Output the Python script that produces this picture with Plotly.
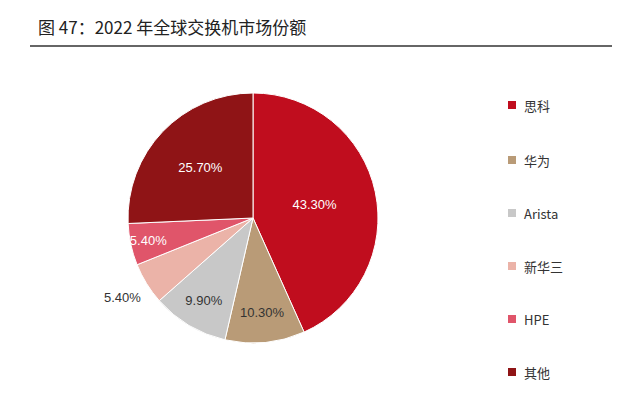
import plotly.graph_objects as go

## ----------- data ----------- ##
companies = ["思科", "华为", "Arista", "新华三", "HPE", "其他"]
shares = [43.3, 10.3, 9.9, 5.4, 5.4, 25.7]
colors = ["#C00D1E", "#B99B77", "#C8C8C8", "#EBB3A8", "#E0556A", "#8F1416"]
label_colors = ["white", "#333333", "#333333", "#333333", "white", "white"]

W, H = 632, 417
OFF = 8  # page offset of the plot in the browser
FONT = "Noto Sans CJK SC, Arial"

texts = [f"{v:.2f}%" for v in shares]
texts[3] = ""  # drawn outside as annotation

cx, cy, r = 253 - OFF, 218 - OFF, 125
fig = go.Figure()
fig.add_trace(
	go.Pie(
		labels=companies,
		values=shares,
		sort=False,
		direction="clockwise",
		rotation=0,
		marker=dict(colors=colors, line=dict(color="white", width=1)),
		text=texts,
		textinfo="text",
		textposition="inside",
		insidetextorientation="horizontal",
		textfont=dict(color=label_colors, size=13, family="Arial"),
		domain=dict(x=[(cx - r) / W, (cx + r) / W], y=[1 - (cy + r) / H, 1 - (cy - r) / H]),
		showlegend=False,
		hoverinfo="label+percent",
	)
)

annotations = [
	dict(x=36 - OFF, y=26 - OFF, text="图 47：2022 年全球交换机市场份额", xanchor="left",
		 font=dict(size=17, color="#222", family=FONT)),
	dict(x=122 - OFF, y=297 - OFF, text=f"{shares[3]:.2f}%", font=dict(size=13, color="#333", family="Arial")),
]
shapes = [dict(type="line", xref="x", yref="y", x0=30 - OFF, x1=612 - OFF, y0=46 - OFF, y1=46 - OFF,
			   line=dict(color="#333", width=1.5))]
legend_y = [105, 160, 213, 266, 319, 372]
for name, col, ly in zip(companies, colors, legend_y):
	ly -= OFF
	shapes.append(dict(type="rect", xref="x", yref="y", x0=508 - OFF, x1=516 - OFF, y0=ly - 4, y1=ly + 4,
					   fillcolor=col, line=dict(width=0)))
	annotations.append(dict(x=522 - OFF, y=ly, text=name, xanchor="left",
							font=dict(size=13, color="#333", family=FONT)))
for a in annotations:
	a.update(xref="x", yref="y", showarrow=False)

fig.update_layout(
	width=W, height=H,
	margin=dict(l=0, r=0, t=0, b=0),
	paper_bgcolor="white", plot_bgcolor="rgba(0,0,0,0)",
	xaxis=dict(range=[0, W], visible=False, fixedrange=True),
	yaxis=dict(range=[H, 0], visible=False, fixedrange=True),
	uniformtext=dict(minsize=13, mode="show"),
	shapes=shapes,
	annotations=annotations,
)
fig.write_html("out.html")
